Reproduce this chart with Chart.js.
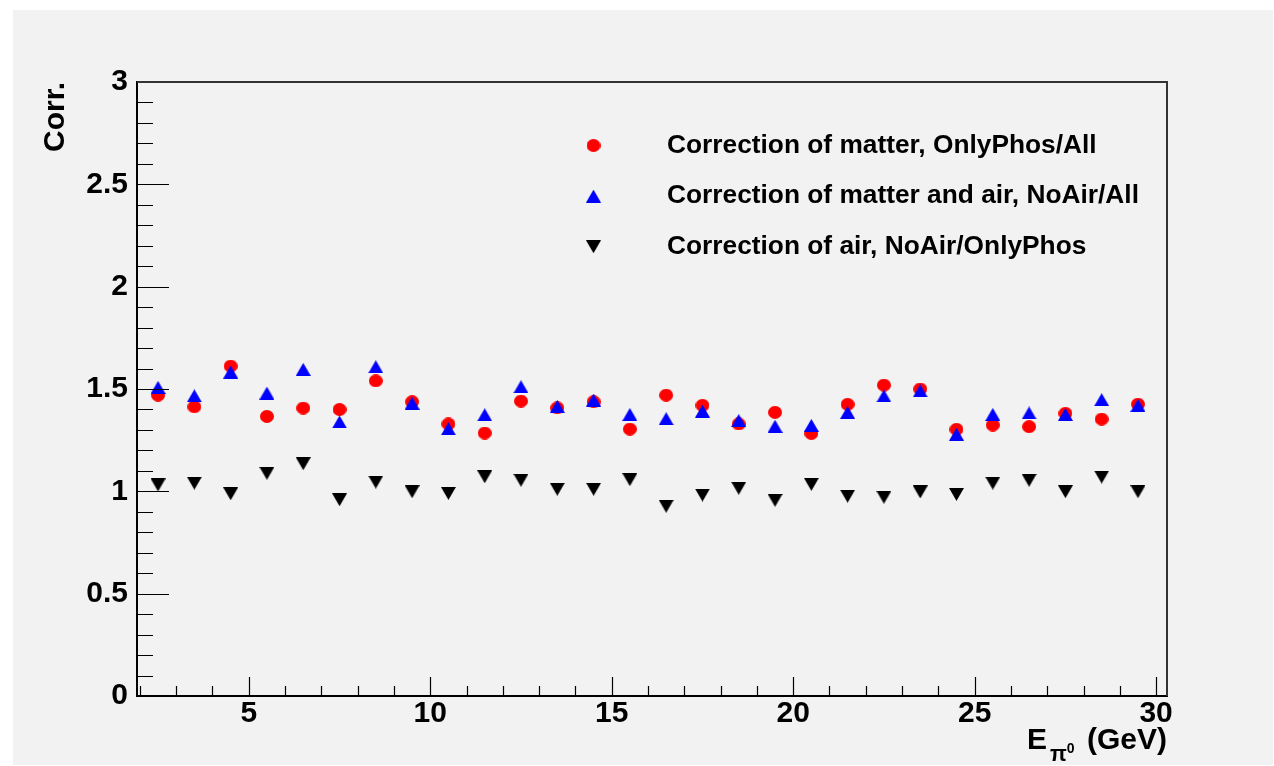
<!DOCTYPE html>
<html>
<head>
<meta charset="utf-8">
<title>Corrections vs E_pi0</title>
<script src="https://cdn.jsdelivr.net/npm/chart.js@4.4.1/dist/chart.umd.min.js"></script>
<style>
  body { margin: 0; background: #ffffff; }
  #pad { position: absolute; left: 13px; top: 10px; width: 1260px; height: 755px; background: #f2f2f2; }
  #chart { position: absolute; left: 0; top: 0; }
</style>
</head>
<body>
<div id="pad"></div>
<canvas id="chart" width="1274" height="766"></canvas>
<script>
// bin centres in GeV
const energy = [2.5, 3.5, 4.5, 5.5, 6.5, 7.5, 8.5, 9.5, 10.5, 11.5, 12.5, 13.5, 14.5, 15.5,
                16.5, 17.5, 18.5, 19.5, 20.5, 21.5, 22.5, 23.5, 24.5, 25.5, 26.5, 27.5, 28.5, 29.5]

// OnlyPhos/All
const matterOnly = [1.470, 1.413, 1.612, 1.366, 1.407, 1.400, 1.540, 1.438, 1.329, 1.285, 1.441, 1.408, 1.438, 1.304,
                    1.470, 1.420, 1.329, 1.386, 1.283, 1.425, 1.519, 1.500, 1.303, 1.324, 1.316, 1.381, 1.353, 1.426]

// NoAir/All
const matterAndAir = [1.508, 1.467, 1.583, 1.480, 1.596, 1.339, 1.609, 1.431, 1.306, 1.374, 1.511, 1.415, 1.446, 1.376,
                      1.355, 1.392, 1.346, 1.318, 1.322, 1.386, 1.466, 1.491, 1.279, 1.376, 1.383, 1.376, 1.448, 1.420]

// NoAir/OnlyPhos
const airOnly = [1.031, 1.040, 0.988, 1.088, 1.135, 0.959, 1.045, 0.998, 0.990, 1.071, 1.054, 1.010, 1.010, 1.057,
                 0.927, 0.982, 1.015, 0.956, 1.034, 0.976, 0.971, 0.997, 0.985, 1.040, 1.054, 0.998, 1.070, 0.998]

const seriesLabels = [
  "Correction of matter, OnlyPhos/All",
  "Correction of matter and air, NoAir/All",
  "Correction of air, NoAir/OnlyPhos"
]

const xTickLabels = [5, 10, 15, 20, 25, 30]
const yTickLabels = [0, 0.5, 1, 1.5, 2, 2.5, 3]

const FONT = "'Liberation Sans', Arial, Helvetica, sans-serif"

// ROOT-style filled markers, centred on their bounding box
function marker(shape, color, w, h) {
  const c = document.createElement("canvas")
  c.width = w
  c.height = h
  const g = c.getContext("2d")
  g.fillStyle = color
  g.beginPath()
  if (shape === "circle") {
    g.ellipse(w / 2, h / 2, w / 2, h / 2, 0, 0, Math.PI * 2)
  } else if (shape === "up") {
    g.moveTo(w / 2, 0); g.lineTo(w, h); g.lineTo(0, h)
  } else {
    g.moveTo(0, 0); g.lineTo(w, 0); g.lineTo(w / 2, h)
  }
  g.closePath()
  g.fill()
  return c
}

const points = ys => energy.map((x, i) => ({ x, y: ys[i] }))

const isMajorY = v => Math.abs(v * 2 - Math.round(v * 2)) < 1e-6

// inward tick marks, top/right frame, legend box and the x title with sub/superscript
const rootPad = {
  id: "rootPad",
  afterDatasetsDraw(chart) {
    const { ctx, chartArea: a, scales: { x, y } } = chart
    ctx.save()
    ctx.strokeStyle = "#000"
    ctx.lineWidth = 1.2
    ctx.beginPath()
    x.ticks.forEach(t => {
      const px = Math.round(x.getPixelForValue(t.value)) + 0.5
      const len = t.value % 5 === 0 ? 19 : 10
      ctx.moveTo(px, a.bottom)
      ctx.lineTo(px, a.bottom - len)
    })
    y.ticks.forEach(t => {
      const py = Math.round(y.getPixelForValue(t.value)) + 0.5
      ctx.moveTo(a.left, py)
      ctx.lineTo(a.left + (isMajorY(t.value) ? 32 : 16), py)
    })
    ctx.stroke()

    ctx.strokeStyle = "#333"
    ctx.lineWidth = 2
    ctx.beginPath()
    ctx.moveTo(a.left, a.top)
    ctx.lineTo(a.right, a.top)
    ctx.lineTo(a.right, a.bottom)
    ctx.stroke()
    ctx.restore()
  },
  afterDraw(chart) {
    const { ctx, chartArea: a } = chart
    ctx.save()
    ctx.fillStyle = "#000"

    // legend
    const mx = a.left + 456.5
    const tx = mx + 73.5
    ctx.font = `bold 26.3px ${FONT}`
    ctx.textBaseline = "middle"
    ctx.textAlign = "left"
    chart.data.datasets.forEach((ds, i) => {
      const my = a.top + 63.5 + i * 50.6
      const img = ds.pointStyle
      ctx.drawImage(img, mx - img.width / 2, my - img.height / 2)
      ctx.fillText(ds.label, tx, my)
    })

    // x axis title: E_{pi^0} (GeV)
    const parts = [
      { text: "E", size: 30, dy: 0, gap: 3 },
      { text: "π", size: 22, dy: 12, gap: 0 },
      { text: "0", size: 14, dy: 4, gap: 4 },
      { text: " (GeV)", size: 30, dy: 0, gap: 0 }
    ]
    ctx.textBaseline = "alphabetic"
    let total = 0
    parts.forEach(p => {
      ctx.font = `bold ${p.size}px ${FONT}`
      p.w = ctx.measureText(p.text).width + p.gap
      total += p.w
    })
    let cx = a.right - total
    const base = a.bottom + 53
    parts.forEach(p => {
      ctx.font = `bold ${p.size}px ${FONT}`
      ctx.fillText(p.text, cx, base + p.dy)
      cx += p.w
    })
    ctx.restore()
  }
}

const tickFont = { family: FONT, size: 30, weight: "bold" }

new Chart(document.getElementById("chart"), {
  type: "scatter",
  data: {
    datasets: [
      { label: seriesLabels[0], data: points(matterOnly), order: 3, pointStyle: marker("circle", "#ff0000", 14, 13), pointRadius: 7 },
      { label: seriesLabels[1], data: points(matterAndAir), order: 2, pointStyle: marker("up", "#0000ff", 15, 13), pointRadius: 7 },
      { label: seriesLabels[2], data: points(airOnly), order: 1, pointStyle: marker("down", "#000000", 15, 13), pointRadius: 7 }
    ]
  },
  options: {
    responsive: false,
    animation: false,
    layout: { padding: { top: 82, right: 107, bottom: 0, left: 0 } },
    plugins: {
      legend: { display: false },
      tooltip: { enabled: false }
    },
    scales: {
      x: {
        type: "linear",
        min: 1.92,
        max: 30.3,
        afterBuildTicks: s => {
          const ticks = []
          for (let v = 2; v <= 30; v++) ticks.push({ value: v })
          s.ticks = ticks
        },
        afterFit: s => { s.height = 70 },
        grid: { display: false, drawTicks: false },
        border: { color: "#000", width: 2 },
        ticks: {
          autoSkip: false,
          maxRotation: 0,
          padding: 0,
          color: "#000",
          font: tickFont,
          callback: v => xTickLabels.includes(v) ? String(v) : ""
        }
      },
      y: {
        min: 0,
        max: 3,
        afterBuildTicks: s => {
          const ticks = []
          for (let i = 0; i <= 30; i++) ticks.push({ value: i / 10 })
          s.ticks = ticks
        },
        afterFit: s => { s.width = 137 },
        grid: { display: false, drawTicks: false },
        border: { color: "#000", width: 2 },
        title: {
          display: true,
          text: "Corr.",
          align: "end",
          color: "#000",
          font: tickFont,
          padding: { top: 38, bottom: 0 }
        },
        ticks: {
          autoSkip: false,
          padding: 9,
          color: "#000",
          font: tickFont,
          callback: v => yTickLabels.includes(v) ? String(v) : ""
        }
      }
    }
  },
  plugins: [rootPad]
})
</script>
</body>
</html>
